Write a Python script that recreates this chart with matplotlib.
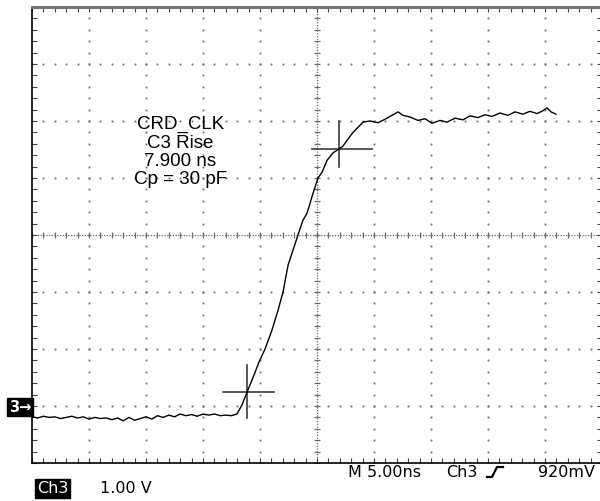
import matplotlib
matplotlib.use("Agg")
import matplotlib.pyplot as plt
import numpy as np
from matplotlib.lines import Line2D

# ---------------- data (time in ns, voltage in V) ----------------
base_t = [-25.0, -24.5, -24.0, -23.5, -23.0, -22.5, -22.0, -21.5, -21.0, -20.5,
          -20.0, -19.5, -19.0, -18.5, -18.0, -17.5, -17.0, -16.5, -16.0, -15.5,
          -15.0, -14.5, -14.0, -13.5, -13.0, -12.5, -12.0, -11.5, -11.0, -10.5,
          -10.0, -9.5, -9.0, -8.5, -8.0, -7.5]
base_v = [-0.17, -0.19, -0.16, -0.18, -0.17, -0.20, -0.18, -0.16, -0.19, -0.17,
          -0.21, -0.18, -0.20, -0.19, -0.22, -0.19, -0.24, -0.18, -0.23, -0.20,
          -0.17, -0.21, -0.15, -0.18, -0.14, -0.17, -0.12, -0.15, -0.13, -0.16,
          -0.12, -0.14, -0.12, -0.15, -0.14, -0.15]

edge_t = [-7.02, -6.58, -6.14, -5.88, -5.53, -5.09, -4.56, -3.95, -3.42, -2.98,
          -2.54, -2.11, -1.67, -1.23, -0.88, -0.35, 0.09, 0.44, 0.88, 1.40,
          1.93, 2.28, 2.63, 3.16, 3.60, 4.04, 4.65, 5.35, 5.96, 6.58,
          7.11, 7.54, 8.16, 8.86, 9.47, 10.09, 10.79, 11.40, 12.11, 12.81,
          13.42, 14.12, 14.74, 15.35, 16.05, 16.75, 17.37, 18.07, 18.68, 19.30,
          19.82, 20.18, 20.53, 20.96]
edge_v = [-0.12, 0.04, 0.26, 0.39, 0.56, 0.79, 1.02, 1.35, 1.70, 2.02,
          2.49, 2.75, 3.02, 3.28, 3.40, 3.75, 4.02, 4.12, 4.33, 4.46,
          4.53, 4.58, 4.68, 4.82, 4.91, 5.00, 5.02, 4.99, 5.05, 5.12,
          5.18, 5.12, 5.09, 5.03, 5.06, 4.98, 5.03, 5.00, 5.07, 5.04,
          5.11, 5.08, 5.13, 5.10, 5.16, 5.12, 5.18, 5.14, 5.19, 5.15,
          5.20, 5.25, 5.18, 5.14]

# measurement cursors (crosses)
cur_lo = (-6.14, 0.26)
cur_hi = (1.93, 4.53)

label_lines = ["CRD_CLK", "C3 Rise", "7.900 ns", "Cp = 30 pF"]

x_lim = (-25.0, 25.0)       # 5 ns/div, 10 div
y_lim = (-0.98, 7.02)       # 1 V/div, 8 div
x_div, y_div = 5.0, 1.0

t = np.array(base_t + edge_t)
v = np.array(base_v + edge_v)

# ---------------- figure ----------------
W, H = 600, 501
fig = plt.figure(figsize=(W / 100, H / 100), dpi=100)
fig.patch.set_facecolor("white")

def fx(px):
    return px / W

def fy(py):
    return 1 - py / H

ax = fig.add_axes([fx(32), fy(463), 570 / W, 456 / H])
ax.set_xlim(*x_lim)
ax.set_ylim(*y_lim)
ax.set_facecolor("white")

gcol = "#6a6a6a"
xg = np.arange(x_lim[0], x_lim[1] + 1e-6, x_div)
yg = y_lim[0] + np.arange(0, 9) * y_div
xc = 0.5 * (x_lim[0] + x_lim[1])
yc = 0.5 * (y_lim[0] + y_lim[1])
x_fine = np.arange(x_lim[0], x_lim[1] + 1e-6, x_div / 5)
y_fine = y_lim[0] + np.arange(0, 41) * (y_div / 5)

# dotted graticule lines
for xv in xg[1:-1]:
    if abs(xv - xc) < 1e-6:
        continue
    ax.plot(np.full_like(y_fine, xv), y_fine, ls="none", marker="s", ms=1.3,
            mew=0, color=gcol, zorder=1)
for yv in yg[1:-1]:
    if abs(yv - yc) < 1e-6:
        continue
    ax.plot(x_fine, np.full_like(x_fine, yv), ls="none", marker="s", ms=1.3,
            mew=0, color=gcol, zorder=1)

# center axes: dense dots plus tick marks
ax.axhline(yc, color=gcol, lw=0.9, ls=(0, (1, 1.2)), zorder=1)
ax.axvline(xc, color=gcol, lw=0.9, ls=(0, (1, 1.2)), zorder=1)
ax.plot(x_fine, np.full_like(x_fine, yc), ls="none", marker="|", ms=5,
        mew=0.9, color=gcol, zorder=1)
ax.plot(np.full_like(y_fine, xc), y_fine, ls="none", marker="_", ms=5,
        mew=0.9, color=gcol, zorder=1)

# border ticks
ax.set_xticks(xg)
ax.set_yticks(yg)
ax.set_xticks(x_fine, minor=True)
ax.set_yticks(y_fine, minor=True)
ax.tick_params(which="both", direction="in", length=3.5, width=0.8,
               color="#444444", top=True, right=True,
               labelbottom=False, labelleft=False)
for s in ("left", "bottom"):
    ax.spines[s].set_color("black")
    ax.spines[s].set_linewidth(1.2)
ax.spines["top"].set_color("#777777")
ax.spines["top"].set_linewidth(2.2)
ax.spines["right"].set_color("#777777")

# waveform
ax.plot(t, v, color="black", lw=1.0, zorder=3)

# cursor crosses
ccol = "#3a3a3a"
ax.plot([cur_lo[0] - 2.1, cur_lo[0] + 2.4], [cur_lo[1]] * 2, color=ccol, lw=1.2, zorder=2)
ax.plot([cur_lo[0]] * 2, [cur_lo[1] - 0.45, cur_lo[1] + 0.48], color=ccol, lw=1.2, zorder=2)
ax.plot([cur_hi[0] - 2.4, cur_hi[0] + 2.9], [cur_hi[1]] * 2, color=ccol, lw=1.2, zorder=2)
ax.plot([cur_hi[0]] * 2, [cur_hi[1] - 0.32, cur_hi[1] + 0.49], color=ccol, lw=1.2, zorder=2)

# measurement label
ax.text(-12.0, 4.47, "\n".join(label_lines), ha="center", va="center",
        multialignment="center", fontsize=13.5, family="Liberation Sans",
        linespacing=1.1, color="black", zorder=4)

# ground marker "3->"
fig.text(fx(9), fy(407), "3\u2192", ha="left", va="center", fontsize=10.5,
         family="DejaVu Sans", fontweight="bold", color="white",
         bbox=dict(boxstyle="square,pad=0.12", fc="black", ec="black"))

# bottom status line
sfont = dict(family="DejaVu Sans", fontsize=11.5, color="black")
fig.text(fx(348), fy(477), "M 5.00ns", ha="left", va="baseline", **sfont)
fig.text(fx(446), fy(477), "Ch3", ha="left", va="baseline", **sfont)
fig.text(fx(595), fy(477), "920mV", ha="right", va="baseline", **sfont)
fig.add_artist(Line2D([fx(487), fx(492), fx(497), fx(503)],
                      [fy(477), fy(477), fy(467), fy(467)],
                      transform=fig.transFigure, color="black", lw=1.6))

fig.text(fx(37), fy(493), "Ch3", ha="left", va="baseline", color="white",
         family="DejaVu Sans", fontsize=11.5,
         bbox=dict(boxstyle="square,pad=0.1", fc="black", ec="black"))
fig.text(fx(100), fy(493), "1.00 V", ha="left", va="baseline", **sfont)

fig.savefig("out.png", dpi=100, facecolor="white")
